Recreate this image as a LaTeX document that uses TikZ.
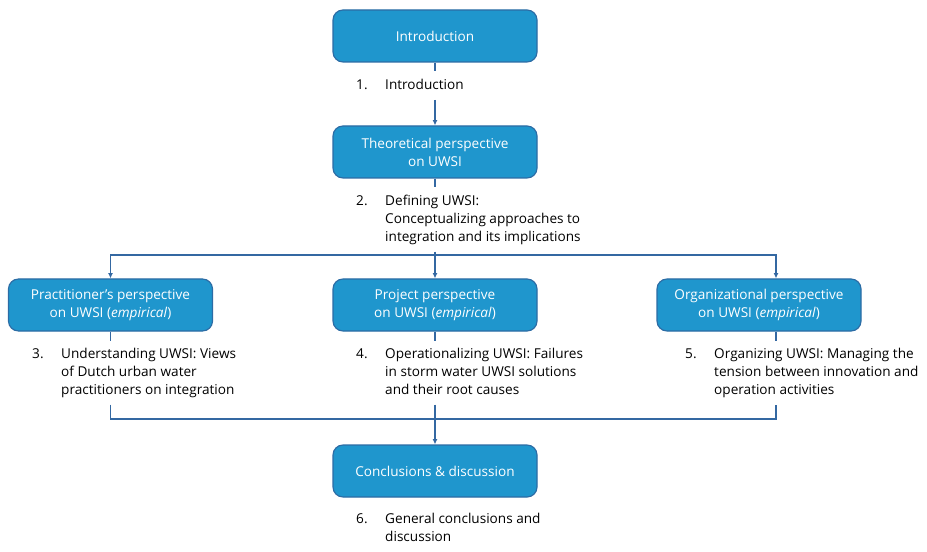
\documentclass[tikz,border=0pt]{standalone}
\usepackage{fontspec}
\setmainfont{Open Sans}
\usepackage{tikz}
\usetikzlibrary{arrows.meta}
\definecolor{boxfill}{RGB}{31,150,205}
\definecolor{boxedge}{RGB}{44,108,165}
\definecolor{linkblue}{RGB}{52,104,162}
% number column + hanging text of a chapter entry
\newcommand{\chaptext}[2]{\begin{tabular}[t]{@{}p{0.87cm}@{}l@{}}#1 & \begin{tabular}[t]{@{}l@{}}#2\end{tabular}\end{tabular}}

\begin{document}
\begin{tikzpicture}[x=0.03cm,y=-0.03cm,>={Latex[length=1.6mm,width=1.5mm]},
  every node/.style={font=\fontsize{11.6}{15.3}\selectfont},
  partbox/.style={draw=boxedge, fill=boxfill, text=white, line width=1pt, rounded corners=0.3cm,
    minimum width=6.12cm, minimum height=1.56cm, align=center, inner sep=2pt},
  chapter/.style={anchor=north west, inner xsep=0pt, inner ysep=0.15cm},
  link/.style={draw=linkblue, line width=1.1pt}]
\path[fill=white] (0,0) rectangle (927,540);
% ==================== PERSPECTIVE BOXES ====================
\node[partbox] (intro) at (435,36) {Introduction};
\node[partbox] (theo) at (435,152) {Theoretical perspective\\on UWSI};
\node[partbox] (prac) at (110.5,305) {Practitioner’s perspective\\on UWSI (\textit{empirical})};
\node[partbox] (proj) at (435,305) {Project perspective\\on UWSI (\textit{empirical})};
\node[partbox] (org) at (759,305) {Organizational perspective\\on UWSI (\textit{empirical})};
\node[partbox] (concl) at (435,471) {Conclusions \& discussion};
% ==================== CHAPTERS ====================
\node[chapter] (ch1) at (356,71.5) {\chaptext{1.}{Introduction}};
\node[chapter] (ch2) at (356,187.5) {\chaptext{2.}{Defining UWSI:\\Conceptualizing approaches to\\integration and its implications}};
\node[chapter] (ch3) at (32,340.5) {\chaptext{3.}{Understanding UWSI: Views\\of Dutch urban water\\practitioners on integration}};
\node[chapter] (ch4) at (356,340.5) {\chaptext{4.}{Operationalizing UWSI: Failures\\in storm water UWSI solutions\\and their root causes}};
\node[chapter] (ch5) at (685,340.5) {\chaptext{5.}{Organizing UWSI: Managing the\\tension between innovation and\\operation activities}};
\node[chapter] (ch6) at (356,505.5) {\chaptext{6.}{General conclusions and\\discussion}};
% ==================== CONNECTORS ====================
\coordinate (split) at (435,255);
\coordinate (splitR) at (776,255);
\coordinate (merge) at (435,419);
\coordinate (mergeR) at (776,419);
% top part
\draw[link] (intro) -- (intro |- ch1.north);
\draw[link,->] (intro |- ch1.south) -- (theo);
\draw[link] (theo) -- (theo |- ch2.north);
\draw[link] (theo |- ch2.south) -- (split);
% split into the three perspectives
\draw[link,->] (split) -| (prac);
\draw[link,->] (split) -- (proj);
\draw[link,->] (split) -- (splitR) -- (splitR |- org.north);
% perspectives to chapters
\draw[link] (prac) -- (prac |- ch3.north);
\draw[link] (proj) -- (proj |- ch4.north);
\draw[link] (splitR |- org.south) -- (splitR |- ch5.north);
% merge into conclusions
\draw[link] (prac |- ch3.south) |- (mergeR) -- (mergeR |- ch5.south);
\draw[link] (proj |- ch4.south) -- (merge);
\draw[link,->] (merge) -- (concl);
\end{tikzpicture}
\end{document}
